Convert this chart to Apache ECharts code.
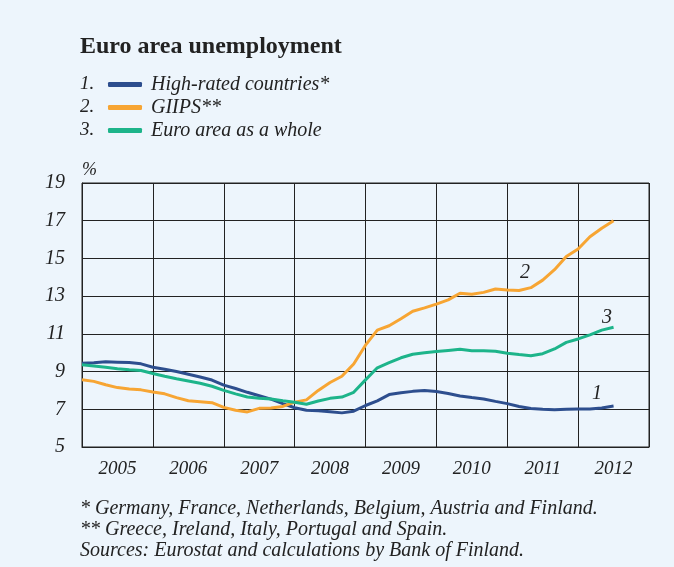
<!DOCTYPE html>
<html>
<head>
<meta charset="utf-8">
<script src="https://cdn.jsdelivr.net/npm/echarts@6/dist/echarts.min.js"></script>
<style>
  html, body { margin: 0; padding: 0; background: #EDF5FC; }
  #main { width: 674px; height: 567px; }
</style>
</head>
<body>
<div id="main"></div>
<script>
// x position of each point, in months from Jan 2005
var months = [0, 2, 4, 6, 8, 10, 12, 14, 16, 18, 20, 22, 24, 26, 28, 30, 32, 34, 36, 38, 40, 42, 44, 46,
    48, 50, 52, 54, 56, 58, 60, 62, 64, 66, 68, 70, 72, 74, 76, 78, 80, 82, 84, 86, 88, 90];
var years = ['2005', '2006', '2007', '2008', '2009', '2010', '2011', '2012'];
var seriesNames = ['High-rated countries*', 'GIIPS**', 'Euro area as a whole'];

var highRated = [9.44, 9.47, 9.52, 9.5, 9.48, 9.41, 9.23, 9.12, 9.0, 8.86, 8.71, 8.55, 8.28, 8.1, 7.9, 7.72,
    7.54, 7.3, 7.08, 6.95, 6.92, 6.87, 6.81, 6.9, 7.2, 7.45, 7.78, 7.88, 7.95, 7.99, 7.94, 7.84, 7.7, 7.62,
    7.55, 7.42, 7.3, 7.15, 7.04, 7.0, 6.98, 7.0, 7.02, 7.02, 7.07, 7.17];
var giips = [8.57, 8.48, 8.3, 8.15, 8.07, 8.03, 7.92, 7.82, 7.62, 7.45, 7.4, 7.35, 7.1, 6.95, 6.86, 7.05,
    7.07, 7.15, 7.38, 7.5, 8.0, 8.42, 8.75, 9.4, 10.4, 11.2, 11.43, 11.8, 12.2, 12.38, 12.58, 12.8, 13.15,
    13.1, 13.2, 13.38, 13.32, 13.3, 13.45, 13.85, 14.4, 15.1, 15.5, 16.15, 16.6, 17.0];
var euroArea = [9.36, 9.3, 9.23, 9.15, 9.1, 9.06, 8.9, 8.75, 8.62, 8.5, 8.38, 8.22, 8.0, 7.82, 7.65, 7.58,
    7.55, 7.45, 7.37, 7.27, 7.44, 7.58, 7.65, 7.9, 8.56, 9.2, 9.47, 9.73, 9.92, 10.0, 10.06, 10.12, 10.18,
    10.11, 10.1, 10.08, 9.97, 9.9, 9.84, 9.95, 10.2, 10.55, 10.73, 10.95, 11.2, 11.35];

var footnotes = [
    '* Germany, France, Netherlands, Belgium, Austria and Finland.',
    '** Greece, Ireland, Italy, Portugal and Spain.',
    'Sources: Eurostat and calculations by Bank of Finland.'
];

var FONT = '"Liberation Serif", "DejaVu Serif", serif';
var colors = ['#2D4E8E', '#F7A533', '#1DB48A'];

function pairs(vals) {
    var out = [];
    for (var i = 0; i < vals.length; i++) out.push([months[i], vals[i]]);
    return out;
}

function makeSeries(idx, vals, tag, coord) {
    return {
        name: seriesNames[idx],
        type: 'line',
        xAxisIndex: 1,
        showSymbol: false,
        lineStyle: { color: colors[idx], width: 3 },
        itemStyle: { color: colors[idx] },
        data: pairs(vals),
        markPoint: {
            symbol: 'circle',
            symbolSize: 1,
            silent: true,
            itemStyle: { color: 'transparent' },
            label: {
                show: true, formatter: tag, position: 'inside',
                fontFamily: FONT, fontStyle: 'italic', fontSize: 20, color: '#222'
            },
            data: [{ coord: coord }]
        }
    };
}

var chart = echarts.init(document.getElementById('main'));

var graphics = [
    { type: 'text', left: 80, top: 35, style: { text: 'Euro area unemployment', font: 'bold 24px ' + FONT, fill: '#222' } }
];
['1.', '2.', '3.'].forEach(function (t, i) {
    graphics.push({ type: 'text', x: 80, y: 84 + i * 23, style: { text: t, font: 'italic 19px ' + FONT, fill: '#222', verticalAlign: 'middle' } });
});
footnotes.forEach(function (t, i) {
    graphics.push({ type: 'text', x: 80, y: 509 + i * 21, style: { text: t, font: 'italic 20px ' + FONT, fill: '#222', verticalAlign: 'middle' } });
});

chart.setOption({
    backgroundColor: '#EDF5FC',
    animation: false,
    graphic: graphics,
    legend: {
        orient: 'vertical',
        left: 103,
        top: 69,
        itemWidth: 34,
        itemHeight: 5,
        itemGap: 2,
        icon: 'roundRect',
        selectedMode: false,
        data: seriesNames,
        textStyle: { fontFamily: FONT, fontStyle: 'italic', fontSize: 20, color: '#222', lineHeight: 21, padding: [0, 0, 0, 4] }
    },
    grid: {
        left: 82, top: 183, right: 25, bottom: 120,
        show: true, borderColor: '#222', borderWidth: 1, backgroundColor: 'transparent'
    },
    xAxis: [{
        type: 'category',
        data: years,
        boundaryGap: true,
        axisTick: { show: false },
        axisLine: { show: true, lineStyle: { color: '#222', width: 1 } },
        splitLine: { show: true, interval: 0, lineStyle: { color: '#222', width: 1 } },
        axisLabel: { margin: 12, fontFamily: FONT, fontStyle: 'italic', fontSize: 19, color: '#222' }
    }, {
        type: 'value',
        min: 0, max: 96,
        show: false
    }],
    yAxis: {
        type: 'value',
        min: 5, max: 19, interval: 2,
        name: '%',
        nameLocation: 'end',
        nameGap: 4,
        nameTextStyle: { align: 'left', fontFamily: FONT, fontStyle: 'italic', fontSize: 18, color: '#222' },
        axisTick: { show: false },
        axisLine: { show: true, lineStyle: { color: '#222', width: 1 } },
        splitLine: { show: true, lineStyle: { color: '#222', width: 1 } },
        axisLabel: { margin: 17, fontFamily: FONT, fontStyle: 'italic', fontSize: 20, color: '#222' }
    },
    series: [
        makeSeries(0, highRated, '1', [87.2, 7.83]),
        makeSeries(1, giips, '2', [75, 14.26]),
        makeSeries(2, euroArea, '3', [88.9, 11.87])
    ]
});
</script>
</body>
</html>
